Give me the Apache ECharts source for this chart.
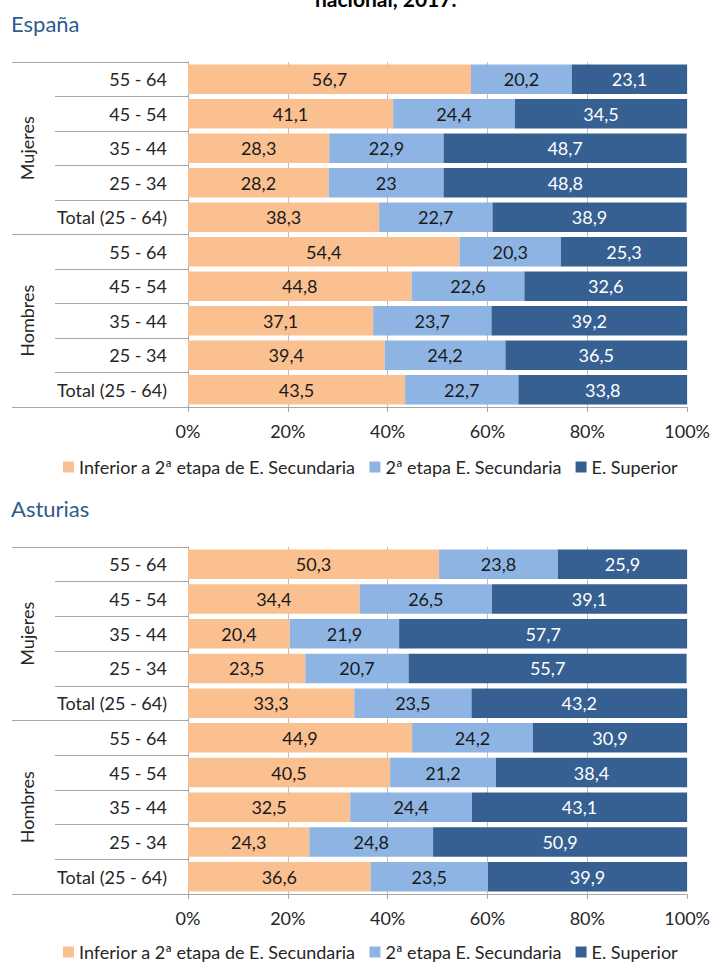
<!DOCTYPE html>
<html>
<head>
<meta charset="utf-8">
<script src="https://cdn.jsdelivr.net/npm/echarts@6/dist/echarts.min.js"></script>
<style>
html, body { margin: 0; padding: 0; background: #fff; }
#chart { width: 713px; height: 962px; }
</style>
</head>
<body>
<div id="chart"></div>
<script>
var categories = ['55 - 64', '45 - 54', '35 - 44', '25 - 34', 'Total (25 - 64)',
                  '55 - 64', '45 - 54', '35 - 44', '25 - 34', 'Total (25 - 64)'];
var groups = ['Mujeres', 'Hombres'];
var seriesNames = ['Inferior a 2ª etapa de E. Secundaria', '2ª etapa E. Secundaria', 'E. Superior'];
var xTicks = [0, 20, 40, 60, 80, 100];

// España
var espInferior = [56.7, 41.1, 28.3, 28.2, 38.3, 54.4, 44.8, 37.1, 39.4, 43.5];
var espSegunda = [20.2, 24.4, 22.9, 23, 22.7, 20.3, 22.6, 23.7, 24.2, 22.7];
var espSuperior = [23.1, 34.5, 48.7, 48.8, 38.9, 25.3, 32.6, 39.2, 36.5, 33.8];

// Asturias
var astInferior = [50.3, 34.4, 20.4, 23.5, 33.3, 44.9, 40.5, 32.5, 24.3, 36.6];
var astSegunda = [23.8, 26.5, 21.9, 20.7, 23.5, 24.2, 21.2, 24.4, 24.8, 23.5];
var astSuperior = [25.9, 39.1, 57.7, 55.7, 43.2, 30.9, 38.4, 43.1, 50.9, 39.9];

var font = 'Lato';
var fs = 18;
var colors = ['#FAC090', '#8EB4E3', '#376092'];
var labelColors = ['#1a1a1a', '#1a1a1a', '#ffffff'];

var chart = echarts.init(document.getElementById('chart'), null, {renderer: 'svg'});

function xAxisFor(idx) {
    return {
        type: 'value',
        gridIndex: idx,
        min: xTicks[0],
        max: xTicks[xTicks.length - 1],
        interval: xTicks[1] - xTicks[0],
        axisLine: {show: true, lineStyle: {color: '#a6a6a6'}},
        axisTick: {show: true, length: 5, lineStyle: {color: '#a6a6a6'}},
        axisLabel: {formatter: '{value}%', color: '#262626', fontFamily: font, fontSize: fs, margin: 15},
        splitLine: {show: true, showMinLine: false, showMaxLine: false, lineStyle: {color: '#bfbfbf'}}
    };
}

function yAxesFor(idx) {
    return [
        {
            type: 'category',
            gridIndex: idx,
            data: categories,
            inverse: true,
            axisLine: {show: true, lineStyle: {color: '#a6a6a6'}},
            axisTick: {show: true, interval: 0, length: 133, lineStyle: {color: '#a6a6a6'}},
            axisLabel: {interval: 0, color: '#262626', fontFamily: font, fontSize: fs, margin: 21}
        },
        {
            // Mujeres / Hombres
            type: 'category',
            gridIndex: idx,
            position: 'left',
            data: groups,
            inverse: true,
            axisLine: {show: false},
            axisTick: {show: true, interval: 0, length: 176, lineStyle: {color: '#a6a6a6'}},
            axisLabel: {interval: 0, rotate: 90, color: '#262626', fontFamily: font, fontSize: fs, margin: 152}
        }
    ];
}

function barsFor(idx, lists) {
    return lists.map(function (list, i) {
        return {
            name: seriesNames[i],
            type: 'bar',
            stack: 'total' + idx,
            xAxisIndex: idx,
            yAxisIndex: idx * 2,
            barCategoryGap: '15%',
            itemStyle: {color: colors[i]},
            label: {
                show: true,
                position: 'inside',
                color: labelColors[i],
                fontFamily: font,
                fontSize: fs,
                formatter: function (p) {
                    return String(p.value).replace('.', ',');
                }
            },
            data: list
        };
    });
}

function legendAt(top) {
    return {
        top: top,
        left: 58,
        icon: 'rect',
        itemWidth: 11,
        itemHeight: 11,
        itemGap: 14,
        selectedMode: false,
        textStyle: {color: '#262626', fontFamily: font, fontSize: fs},
        data: seriesNames
    };
}

var titleStyle = {fill: '#2f5b8d', font: '22px ' + font};

var option = {
    backgroundColor: '#ffffff',
    animation: false,
    graphic: [
        {type: 'text', left: 315, top: -12, style: {text: 'nacional, 2017.', fill: '#000', font: 'bold 21px ' + font}},
        {type: 'text', left: 11, top: 12, style: {text: 'España', fill: titleStyle.fill, font: titleStyle.font}},
        {type: 'text', left: 11, top: 497, style: {text: 'Asturias', fill: titleStyle.fill, font: titleStyle.font}}
    ],
    legend: [legendAt(453), legendAt(938)],
    grid: [
        {left: 188, right: 25, top: 62, height: 345},
        {left: 188, right: 25, top: 547, height: 347}
    ],
    xAxis: [xAxisFor(0), xAxisFor(1)],
    yAxis: yAxesFor(0).concat(yAxesFor(1)),
    series: barsFor(0, [espInferior, espSegunda, espSuperior])
        .concat(barsFor(1, [astInferior, astSegunda, astSuperior]))
};

chart.setOption(option);
</script>
</body>
</html>
